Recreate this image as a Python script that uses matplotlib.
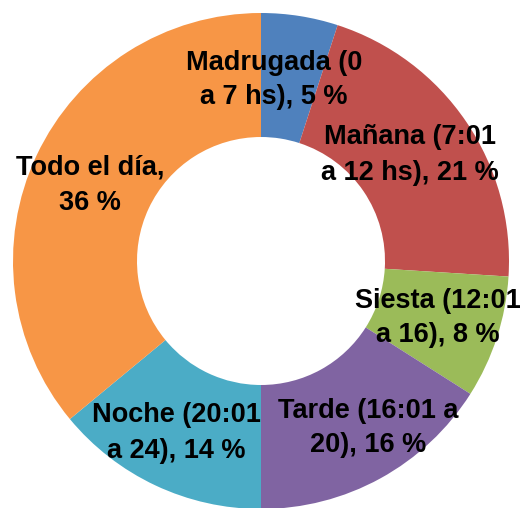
import matplotlib
matplotlib.use("Agg")
import matplotlib.pyplot as plt

plt.rcParams['font.family'] = ['Liberation Sans', 'DejaVu Sans']

# time-of-day slices, clockwise from 12 o'clock
categories = ["Madrugada (0\na 7 hs)", "Mañana (7:01\na 12 hs)", "Siesta (12:01\na 16)",
              "Tarde (16:01 a\n20)", "Noche (20:01\na 24)", "Todo el día"]
values = [5, 21, 8, 16, 14, 36]
separators = [", ", ", ", ", ", ", ", ", ", ",\n"]
colors = ["#4F81BD", "#C0504D", "#9BBB59", "#8064A2", "#4BACC6", "#F79646"]

# label centres in pixels (x from left, y from top)
label_px = [(274, 80), (410, 155), (438, 318), (368, 428), (176, 433), (90, 185)]

cx, cy, R = 261, 261, 248
W, H = 529, 508

fig = plt.figure(figsize=(W / 100, H / 100), dpi=100)
ax = fig.add_axes([0, 0, 1, 1])
ax.pie(values, colors=colors, startangle=90, counterclock=False, radius=1.0,
       wedgeprops=dict(width=0.5, linewidth=0))
ax.set_xlim(-cx / R, (W - cx) / R)
ax.set_ylim(-(H - cy) / R, cy / R)
ax.set_aspect('equal')
ax.axis('off')

for cat, v, sep, (px, py) in zip(categories, values, separators, label_px):
    ax.text((px - cx) / R, (cy - py) / R, f"{cat}{sep}{v} %", ha='center', va='center',
            multialignment='center', fontsize=19.5, fontweight='bold', linespacing=1.45)

fig.savefig("out.png", dpi=100)
